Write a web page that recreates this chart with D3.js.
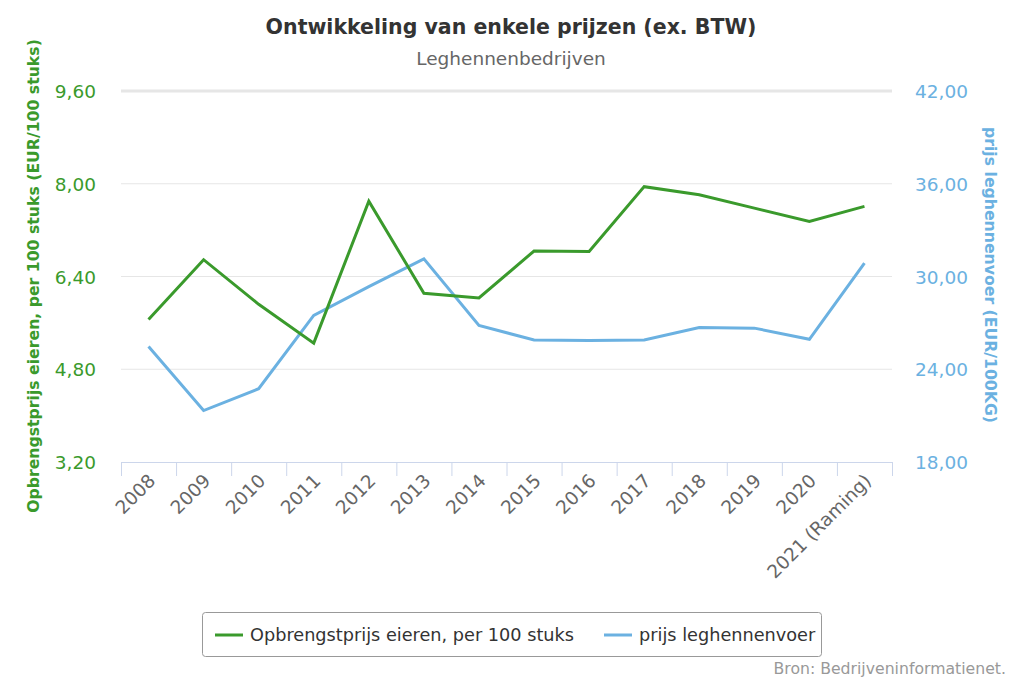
<!DOCTYPE html>
<html>
<head>
<meta charset="utf-8">
<script src="https://cdn.jsdelivr.net/npm/d3@7"></script>
<style>
  body { margin: 0; background: #fff; }
  svg { font-family: "DejaVu Sans", Verdana, sans-serif; }
</style>
</head>
<body>
<div id="chart"></div>
<script>
var years = ["2008", "2009", "2010", "2011", "2012", "2013", "2014", "2015", "2016", "2017", "2018", "2019", "2020", "2021 (Raming)"];
var eierenPrijs = [5.66, 6.69, 5.92, 5.25, 7.70, 6.11, 6.03, 6.84, 6.83, 7.95, 7.81, 7.58, 7.35, 7.61];
var voerPrijs = [25.47, 21.33, 22.74, 27.48, 29.35, 31.14, 26.83, 25.90, 25.86, 25.90, 26.70, 26.66, 25.94, 30.86];
var leftTicks = [3.2, 4.8, 6.4, 8.0, 9.6];
var rightTicks = [18, 24, 30, 36, 42];
var seriesNames = ["Opbrengstprijs eieren, per 100 stuks", "prijs leghennenvoer"];

var green = "#3a9a2c";
var blue = "#6bb1e1";

var width = 1024, height = 683;
var margin = {left: 121, right: 132, top: 91, bottom: 221};

var svg = d3.select("#chart").append("svg")
    .attr("width", width)
    .attr("height", height);

var x = d3.scaleBand()
    .domain(years)
    .range([margin.left, width - margin.right]);

var yLeft = d3.scaleLinear()
    .domain([3.2, 9.6])
    .range([height - margin.bottom, margin.top]);

var yRight = d3.scaleLinear()
    .domain([18, 42])
    .range([height - margin.bottom, margin.top]);

var fmt = function(d) { return d3.format(".2f")(d).replace(".", ","); };

// titles
svg.append("text")
    .attr("x", 511).attr("y", 34)
    .attr("text-anchor", "middle")
    .attr("font-size", 20.5).attr("font-weight", "bold")
    .attr("fill", "#333")
    .text("Ontwikkeling van enkele prijzen (ex. BTW)");
svg.append("text")
    .attr("x", 511).attr("y", 65)
    .attr("text-anchor", "middle")
    .attr("font-size", 18.5)
    .attr("fill", "#666")
    .text("Leghennenbedrijven");

// gridlines
svg.append("g").selectAll("line")
    .data(leftTicks.slice(1))
    .enter().append("line")
    .attr("x1", margin.left).attr("x2", width - margin.right)
    .attr("y1", function(d) { return yLeft(d); })
    .attr("y2", function(d) { return yLeft(d); })
    .attr("stroke", "#e6e6e6")
    .attr("stroke-width", function(d, i) { return i === 3 ? 3 : 1; });

// left axis labels
svg.append("g").selectAll("text")
    .data(leftTicks)
    .enter().append("text")
    .attr("x", 96)
    .attr("y", function(d) { return yLeft(d) + 7; })
    .attr("text-anchor", "end")
    .attr("font-size", 18.5)
    .attr("fill", green)
    .text(fmt);

// right axis labels
svg.append("g").selectAll("text")
    .data(rightTicks)
    .enter().append("text")
    .attr("x", 915)
    .attr("y", function(d) { return yRight(d) + 7; })
    .attr("font-size", 18.5)
    .attr("fill", blue)
    .text(fmt);

// axis titles
svg.append("text")
    .attr("transform", "translate(39,276) rotate(-90)")
    .attr("text-anchor", "middle")
    .attr("font-size", 15.7).attr("font-weight", "bold")
    .attr("fill", green)
    .text("Opbrengstprijs eieren, per 100 stuks (EUR/100 stuks)");
svg.append("text")
    .attr("transform", "translate(985,275) rotate(90)")
    .attr("text-anchor", "middle")
    .attr("font-size", 15.7).attr("font-weight", "bold")
    .attr("fill", blue)
    .text("prijs leghennenvoer (EUR/100KG)");

// x axis
var base = height - margin.bottom;
var xAxis = svg.append("g");
xAxis.append("line")
    .attr("x1", margin.left).attr("x2", width - margin.right)
    .attr("y1", base + 0.5).attr("y2", base + 0.5)
    .attr("stroke", "#ccd6eb");
var edges = years.map(function(d) { return x(d); }).concat([x(years[years.length - 1]) + x.bandwidth()]);
xAxis.selectAll("line.tick")
    .data(edges)
    .enter().append("line")
    .attr("class", "tick")
    .attr("x1", function(d) { return d + 0.5; })
    .attr("x2", function(d) { return d + 0.5; })
    .attr("y1", base).attr("y2", base + 14)
    .attr("stroke", "#ccd6eb");
xAxis.selectAll("text")
    .data(years)
    .enter().append("text")
    .attr("transform", function(d) {
        return "translate(" + (x(d) + x.bandwidth() / 2 + 8) + "," + (base + 20) + ") rotate(-45)";
    })
    .attr("text-anchor", "end")
    .attr("font-size", 18.5)
    .attr("fill", "#666")
    .text(function(d) { return d; });

// lines
var cx = function(d, i) { return x(years[i]) + x.bandwidth() / 2; };
svg.append("path")
    .datum(voerPrijs)
    .attr("fill", "none")
    .attr("stroke", blue)
    .attr("stroke-width", 3)
    .attr("d", d3.line().x(cx).y(function(d) { return yRight(d); }));
svg.append("path")
    .datum(eierenPrijs)
    .attr("fill", "none")
    .attr("stroke", green)
    .attr("stroke-width", 3)
    .attr("d", d3.line().x(cx).y(function(d) { return yLeft(d); }));

// legend
var legend = svg.append("g");
legend.append("rect")
    .attr("x", 202.5).attr("y", 612.5)
    .attr("width", 619).attr("height", 44)
    .attr("rx", 3)
    .attr("fill", "#fff")
    .attr("stroke", "#999");
var items = [
    {name: seriesNames[0], color: green, x: 215},
    {name: seriesNames[1], color: blue, x: 604}
];
var li = legend.selectAll("g.item")
    .data(items)
    .enter().append("g")
    .attr("class", "item");
li.append("line")
    .attr("x1", function(d) { return d.x; })
    .attr("x2", function(d) { return d.x + 28; })
    .attr("y1", 635).attr("y2", 635)
    .attr("stroke", function(d) { return d.color; })
    .attr("stroke-width", 3);
li.append("text")
    .attr("x", function(d) { return d.x + 35; })
    .attr("y", 641)
    .attr("font-size", 17.7)
    .attr("fill", "#333")
    .text(function(d) { return d.name; });

// credits
svg.append("text")
    .attr("x", 1006).attr("y", 674)
    .attr("text-anchor", "end")
    .attr("font-size", 15.7)
    .attr("fill", "#999")
    .text("Bron: Bedrijveninformatienet.");
</script>
</body>
</html>
